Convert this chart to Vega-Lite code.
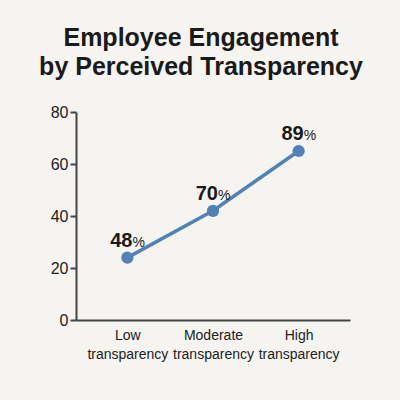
{
  "$schema": "https://vega.github.io/schema/vega-lite/v6.json",
  "autosize": "none",
  "padding": {"left": 76, "top": 112, "right": 50, "bottom": 80},
  "width": 274,
  "height": 208,
  "background": "#f5f4f0",
  "title": {
    "text": ["Employee Engagement", "by Perceived Transparency"],
    "font": "Liberation Sans",
    "fontSize": 25,
    "fontWeight": "bold",
    "color": "#1a1a1a",
    "lineHeight": 29,
    "anchor": "middle",
    "dx": -12,
    "offset": 24
  },
  "config": {
    "view": {"stroke": null},
    "font": "Liberation Sans"
  },
  "data": {
    "values": [
      {"level": "Low transparency", "engagement": 24, "pct": "48"},
      {"level": "Moderate transparency", "engagement": 42, "pct": "70"},
      {"level": "High transparency", "engagement": 65, "pct": "89"}
    ]
  },
  "encoding": {
    "x": {
      "field": "level", "type": "nominal", "sort": null,
      "scale": {"type": "point", "padding": 0.6},
      "axis": {
        "title": null, "labelAngle": 0, "ticks": false,
        "domainColor": "#444", "domainWidth": 2,
        "labelFontSize": 14, "labelColor": "#222", "labelPadding": 8,
        "labelLineHeight": 19,
        "labelExpr": "split(datum.label, ' ')"
      }
    },
    "y": {
      "field": "engagement", "type": "quantitative",
      "scale": {"domain": [0, 80]},
      "axis": {
        "title": null, "grid": false, "values": [0, 20, 40, 60, 80],
        "domainColor": "#444", "domainWidth": 2,
        "tickColor": "#444", "tickWidth": 2, "tickSize": 6,
        "labelFontSize": 16, "labelColor": "#222", "labelPadding": 2
      }
    }
  },
  "layer": [
    {"mark": {"type": "line", "color": "#5282b4", "strokeWidth": 3.5}},
    {"mark": {"type": "point", "filled": true, "opacity": 1, "color": "#5282b4", "size": 150}},
    {
      "mark": {"type": "text", "align": "right", "baseline": "alphabetic", "dx": 5, "dy": -11, "fontSize": 20, "fontWeight": "bold", "color": "#1a1a1a"},
      "encoding": {"text": {"field": "pct"}}
    },
    {
      "mark": {"type": "text", "align": "left", "baseline": "alphabetic", "dx": 5, "dy": -11, "fontSize": 14, "color": "#1a1a1a"},
      "encoding": {"text": {"value": "%"}}
    }
  ]
}
